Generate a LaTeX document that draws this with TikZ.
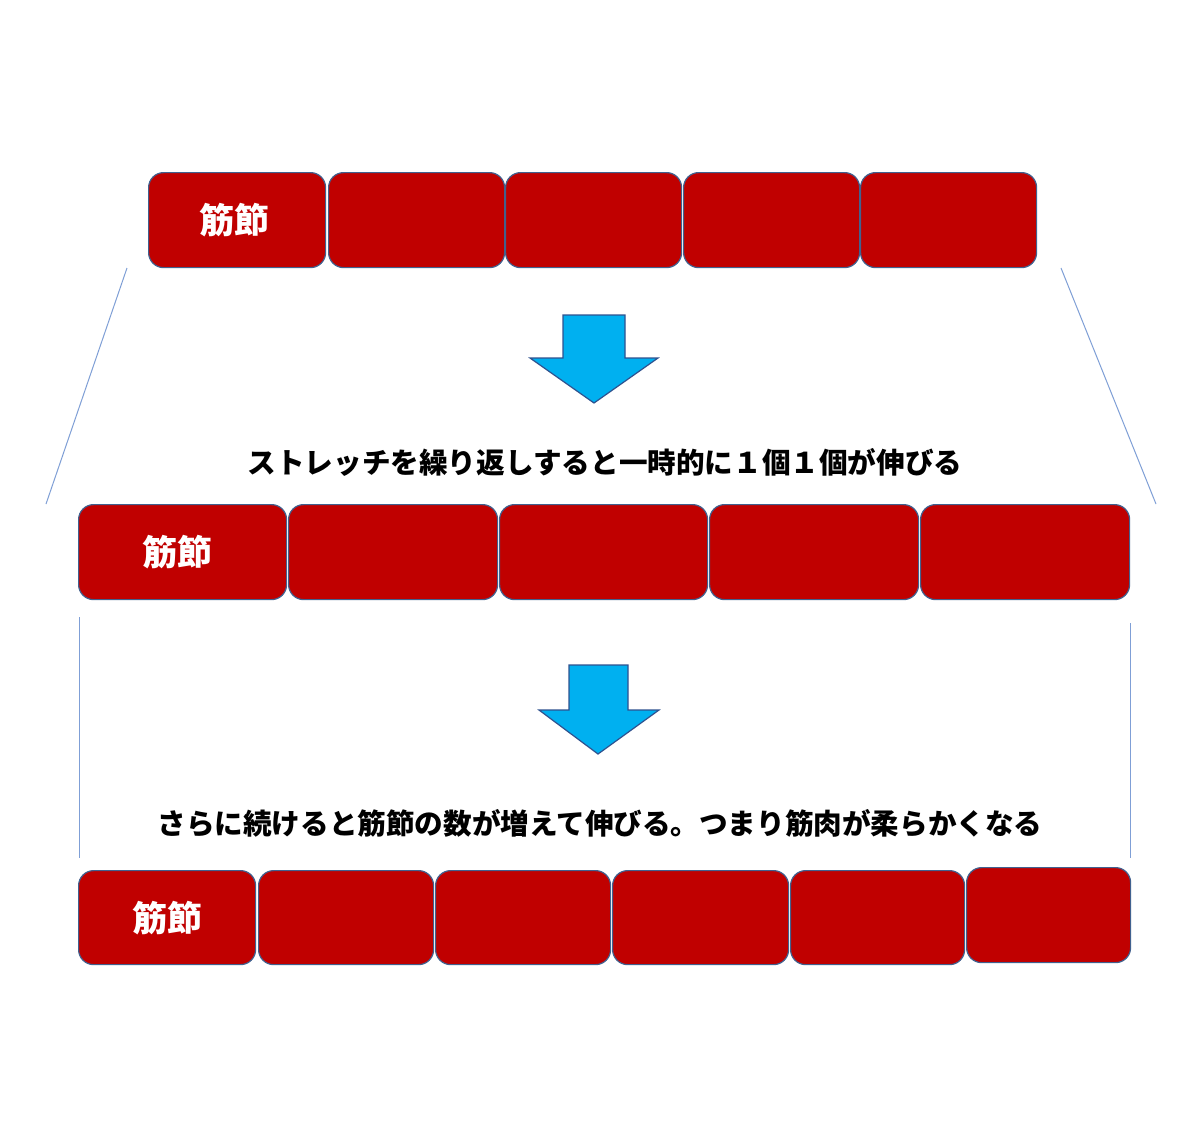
\documentclass[tikz,border=0pt]{standalone}
\usepackage{fontspec}
\newfontfamily\cjk{Noto Sans CJK JP}
\definecolor{boxred}{HTML}{C00000}
\definecolor{boxedge}{HTML}{41618F}
\definecolor{arrowfill}{HTML}{00B0F0}
\definecolor{arrowedge}{HTML}{2F528F}
\definecolor{guide}{HTML}{7F9FD6}
\tikzset{
  seg/.style={draw=boxedge, fill=boxred, line width=0.6pt, rounded corners=7.5pt, inner sep=0pt, anchor=north west},
  seglabel/.style={text=white, font=\cjk\bfseries\fontsize{17.5pt}{20pt}\selectfont},
  caption/.style={font=\cjk\bfseries\fontsize{14.3pt}{16pt}\selectfont, text=black, inner sep=0pt},
  downarrow/.style={fill=arrowfill, draw=arrowedge, line width=0.6pt, line join=miter},
  guideline/.style={draw=guide, line width=0.5pt}
}
\newcommand{\segbox}[7]{% name, x1, y1, x2, y2, label, label x-shift (px)
  \node[seg, minimum width={(#4-#2)*0.5pt}, minimum height={(#5-#3)*0.5pt}] (#1) at (#2,#3) {};
  \node[seglabel] (#1l) at ([xshift=#7*0.5pt]#1.center) {#6};
}
\begin{document}
\begin{tikzpicture}[x=0.5pt,y=-0.5pt]
\useasboundingbox[fill=white] (0,0) rectangle (1200,1132);
% row 1
\segbox{a1}{148}{172}{325}{267}{筋節}{-3}
\segbox{a2}{328}{172}{504}{267}{}{0}
\segbox{a3}{505}{172}{681}{267}{}{0}
\segbox{a4}{683}{172}{859}{267}{}{0}
\segbox{a5}{860}{172}{1036}{267}{}{0}
% row 2
\segbox{b1}{78}{504}{286}{599}{筋節}{-5}
\segbox{b2}{288}{504}{497}{599}{}{0}
\segbox{b3}{499}{504}{707}{599}{}{0}
\segbox{b4}{709}{504}{918}{599}{}{0}
\segbox{b5}{920}{504}{1129}{599}{}{0}
% row 3
\segbox{c1}{78}{870}{255}{964}{筋節}{0}
\segbox{c2}{258}{870}{433}{964}{}{0}
\segbox{c3}{435}{870}{610}{964}{}{0}
\segbox{c4}{612}{870}{788}{964}{}{0}
\segbox{c5}{790}{870}{964}{964}{}{0}
\segbox{c6}{966}{867}{1130}{962}{}{0}
% guide lines
\coordinate (g1a) at (127,268); \coordinate (g1b) at (46,504);
\coordinate (g2a) at (1061,268); \coordinate (g2b) at (1156,504);
\coordinate (g3a) at (79,617); \coordinate (g3b) at (79,858);
\coordinate (g4a) at (1130,623); \coordinate (g4b) at (1130,858);
\draw[guideline] (g1a) -- (g1b);
\draw[guideline] (g2a) -- (g2b);
\draw[guideline] (g3a) -- (g3b);
\draw[guideline] (g4a) -- (g4b);
% arrows
\draw[downarrow] (563,315) -- (625,315) -- (625,358) -- (658,358) -- (594,403) -- (530,358) -- (563,358) -- cycle;
\draw[downarrow] (569,665) -- (628,665) -- (628,710) -- (659,710) -- (598,754) -- (539,710) -- (569,710) -- cycle;
% captions
\node[caption] (t1) at (605,462) {ストレッチを繰り返しすると一時的に１個１個が伸びる};
\node[caption] (t2) at (600,823) {さらに続けると筋節の数が増えて伸びる。つまり筋肉が柔らかくなる};
\end{tikzpicture}
\end{document}
